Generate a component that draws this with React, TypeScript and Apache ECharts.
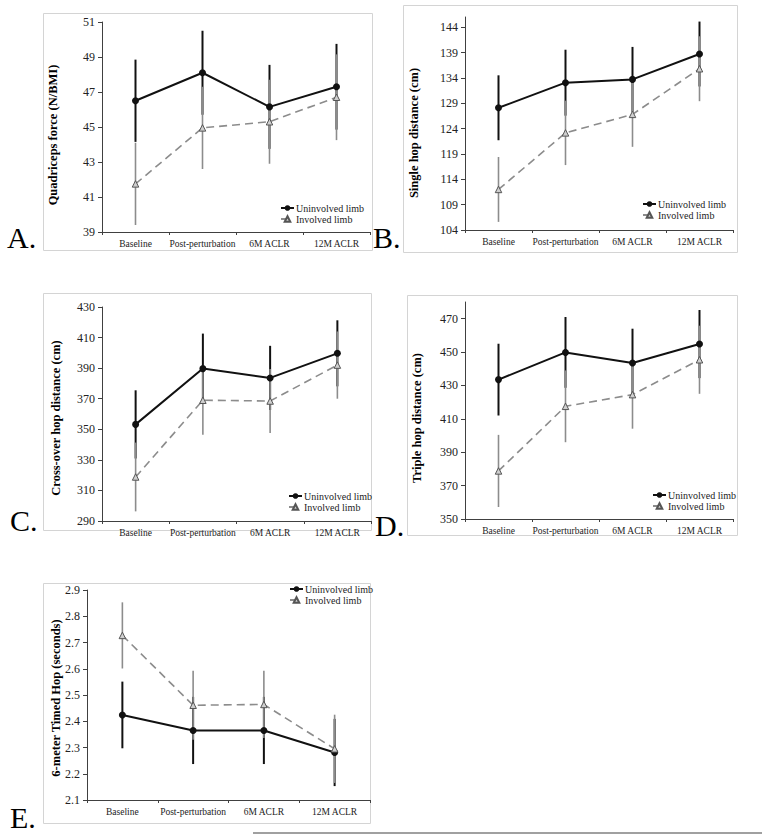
import React, { useEffect, useRef } from "react";
import * as echarts from "echarts";

const categories = ["Baseline", "Post-perturbation", "6M ACLR", "12M ACLR"];
const seriesNames = ["Uninvolved limb", "Involved limb"];

// Panel A – Quadriceps force
const uninvA = [46.5, 48.1, 46.15, 47.3];
const uninvAErr = [2.35, 2.4, 2.4, 2.45];
const invA = [41.75, 44.95, 45.3, 46.7];
const invAErr = [2.35, 2.35, 2.4, 2.45];
const ticksA = [39, 41, 43, 45, 47, 49, 51];

// Panel B – Single hop distance
const uninvB = [128.1, 133.05, 133.7, 138.7];
const uninvBErr = [6.4, 6.5, 6.4, 6.4];
const invB = [112.0, 123.15, 126.8, 135.8];
const invBErr = [6.4, 6.35, 6.4, 6.4];
const ticksB = [104, 109, 114, 119, 124, 129, 134, 139, 144];

// Panel C – Cross-over hop distance
const uninvC = [353.2, 389.7, 383.6, 399.7];
const uninvCErr = [22.3, 22.9, 21.0, 21.6];
const invC = [318.8, 369.0, 368.5, 392.0];
const invCErr = [22.5, 22.5, 21.0, 22.0];
const ticksC = [290, 310, 330, 350, 370, 390, 410, 430];

// Panel D – Triple hop distance
const uninvD = [433.5, 449.8, 443.5, 454.8];
const uninvDErr = [21.5, 21.2, 20.5, 20.4];
const invD = [378.8, 417.5, 424.5, 445.4];
const invDErr = [21.6, 21.5, 20.4, 20.4];
const ticksD = [350, 370, 390, 410, 430, 450, 470];

// Panel E – 6-meter timed hop
const uninvE = [2.424, 2.365, 2.365, 2.281];
const uninvEErr = [0.127, 0.128, 0.128, 0.128];
const invE = [2.727, 2.461, 2.464, 2.295];
const invEErr = [0.126, 0.131, 0.128, 0.13];
const ticksE = [2.1, 2.2, 2.3, 2.4, 2.5, 2.6, 2.7, 2.8, 2.9];

const SERIF = "Liberation Serif, serif";
const GREY = "#8c8c8c";

type Panel = {
  letter: string;
  title: string;
  uninv: number[];
  uninvErr: number[];
  inv: number[];
  invErr: number[];
  ticks: number[];
  min: number;
  max: number;
  decimals: number;
  grid: { left: number; top: number; width: number; height: number };
  frame: { x: number; y: number; w: number; h: number };
  letterPos: { x: number; y: number };
  titlePos: { x: number; y: number };
  legendPos: { left: number; top: number };
};

const panels: Panel[] = [
  {
    letter: "A.", title: "Quadriceps force (N/BMI)",
    uninv: uninvA, uninvErr: uninvAErr, inv: invA, invErr: invAErr,
    ticks: ticksA, min: 39, max: 51, decimals: 0,
    grid: { left: 102, top: 22, width: 268, height: 210 },
    frame: { x: 43, y: 13, w: 329, h: 237 },
    letterPos: { x: 7, y: 237 }, titlePos: { x: 53, y: 135 },
    legendPos: { left: 280, top: 203 },
  },
  {
    letter: "B.", title: "Single hop distance (cm)",
    uninv: uninvB, uninvErr: uninvBErr, inv: invB, invErr: invBErr,
    ticks: ticksB, min: 104, max: 146, decimals: 0,
    grid: { left: 465, top: 17, width: 268, height: 213 },
    frame: { x: 403, y: 5, w: 334, h: 247 },
    letterPos: { x: 373, y: 237 }, titlePos: { x: 414, y: 133 },
    legendPos: { left: 642, top: 199 },
  },
  {
    letter: "C.", title: "Cross-over hop distance (cm)",
    uninv: uninvC, uninvErr: uninvCErr, inv: invC, invErr: invCErr,
    ticks: ticksC, min: 290, max: 430, decimals: 0,
    grid: { left: 102, top: 307, width: 269, height: 214 },
    frame: { x: 43, y: 293, w: 328, h: 237 },
    letterPos: { x: 10, y: 520 }, titlePos: { x: 56, y: 418 },
    legendPos: { left: 288, top: 491 },
  },
  {
    letter: "D.", title: "Triple hop distance (cm)",
    uninv: uninvD, uninvErr: uninvDErr, inv: invD, invErr: invDErr,
    ticks: ticksD, min: 350, max: 480, decimals: 0,
    grid: { left: 465, top: 302, width: 268, height: 217 },
    frame: { x: 407, y: 295, w: 330, h: 240 },
    letterPos: { x: 375, y: 525 }, titlePos: { x: 417, y: 418 },
    legendPos: { left: 652, top: 490 },
  },
  {
    letter: "E.", title: "6-meter Timed Hop (seconds)",
    uninv: uninvE, uninvErr: uninvEErr, inv: invE, invErr: invEErr,
    ticks: ticksE, min: 2.1, max: 2.9, decimals: 1,
    grid: { left: 87, top: 590, width: 283, height: 210 },
    frame: { x: 43, y: 583, w: 327, h: 240 },
    letterPos: { x: 10, y: 817 }, titlePos: { x: 56, y: 698 },
    legendPos: { left: 289, top: 584 },
  },
];

function errRender(color: string, width: number) {
  return (params: any, api: any) => {
    const x = api.value(0);
    const lo = api.coord([x, api.value(1)]);
    const hi = api.coord([x, api.value(2)]);
    return {
      type: "line",
      shape: { x1: lo[0], y1: lo[1], x2: hi[0], y2: hi[1] },
      style: { stroke: color, lineWidth: width },
    };
  };
}

function buildOption() {
  const grid: any[] = [];
  const xAxis: any[] = [];
  const yAxis: any[] = [];
  const series: any[] = [];
  const legend: any[] = [];
  const graphic: any[] = [];

  panels.forEach((p, i) => {
    grid.push({ ...p.grid, containLabel: false });
    xAxis.push({
      type: "category",
      gridIndex: i,
      data: categories,
      boundaryGap: true,
      axisLine: { lineStyle: { color: "#404040", width: 1 } },
      axisTick: { show: true, length: 3, lineStyle: { color: "#404040" } },
      axisLabel: { fontFamily: SERIF, fontSize: 9.5, color: "#222", margin: 7, interval: 0 },
      splitLine: { show: false },
    });
    yAxis.push({
      type: "value",
      gridIndex: i,
      min: p.min,
      max: p.max,
      axisLine: { show: true, lineStyle: { color: "#404040", width: 1 } },
      axisTick: { show: true, length: 4, customValues: p.ticks, lineStyle: { color: "#404040" } },
      axisLabel: {
        fontFamily: SERIF,
        fontSize: 12,
        color: "#222",
        margin: 7,
        customValues: p.ticks,
        formatter: (v: number) => v.toFixed(p.decimals),
      },
      splitLine: { show: false },
    });

    series.push({
      type: "custom",
      name: seriesNames[0] + " SD",
      xAxisIndex: i,
      yAxisIndex: i,
      renderItem: errRender("#111", 2),
      encode: { x: 0, y: [1, 2] },
      data: p.uninv.map((v, k) => [k, v - p.uninvErr[k], v + p.uninvErr[k]]),
      silent: true,
    });
    series.push({
      type: "custom",
      name: seriesNames[1] + " SD",
      xAxisIndex: i,
      yAxisIndex: i,
      renderItem: errRender(GREY, 1.6),
      encode: { x: 0, y: [1, 2] },
      data: p.inv.map((v, k) => [k, v - p.invErr[k], v + p.invErr[k]]),
      silent: true,
    });
    series.push({
      type: "line",
      name: seriesNames[0],
      xAxisIndex: i,
      yAxisIndex: i,
      data: p.uninv,
      symbol: "circle",
      symbolSize: 7,
      itemStyle: { color: "#111" },
      lineStyle: { color: "#111", width: 2 },
    });
    series.push({
      type: "line",
      name: seriesNames[1],
      xAxisIndex: i,
      yAxisIndex: i,
      data: p.inv,
      symbol: "triangle",
      symbolSize: 6.5,
      itemStyle: { color: "#cfcfcf", borderColor: "#555", borderWidth: 1 },
      lineStyle: { color: GREY, width: 1.6, type: [8, 5] },
    });

    legend.push({
      data: seriesNames,
      orient: "vertical",
      left: p.legendPos.left,
      top: p.legendPos.top,
      padding: 0,
      itemGap: 1,
      itemWidth: 13,
      itemHeight: 7,
      textStyle: { fontFamily: SERIF, fontSize: 10, color: "#222", padding: [0, 0, 0, -3] },
      selectedMode: false,
    });

    graphic.push({
      type: "rect",
      shape: { x: p.frame.x + 0.5, y: p.frame.y + 0.5, width: p.frame.w, height: p.frame.h },
      style: { fill: "none", stroke: "#d4d4d4", lineWidth: 1 },
      silent: true,
      z: -1,
    });
    graphic.push({
      type: "text",
      x: p.letterPos.x,
      y: p.letterPos.y,
      style: {
        text: p.letter,
        font: `30px ${SERIF}`,
        fill: "#000",
        align: "left",
        verticalAlign: "middle",
      },
    });
    graphic.push({
      type: "text",
      x: p.titlePos.x,
      y: p.titlePos.y,
      rotation: Math.PI / 2,
      style: {
        text: p.title,
        font: `bold 12.5px ${SERIF}`,
        fill: "#000",
        align: "center",
        verticalAlign: "middle",
      },
    });
  });

  graphic.push({
    type: "line",
    shape: { x1: 253, y1: 833, x2: 762, y2: 833 },
    style: { stroke: "#808080", lineWidth: 1.5 },
  });

  return {
    animation: false,
    backgroundColor: "#fff",
    textStyle: { fontFamily: SERIF },
    grid,
    xAxis,
    yAxis,
    series,
    legend,
    graphic,
  };
}

export default function App() {
  const ref = useRef<HTMLDivElement>(null);
  useEffect(() => {
    if (!ref.current) return;
    const chart = echarts.init(ref.current, undefined, { renderer: "svg" });
    chart.setOption(buildOption() as any);
    return () => chart.dispose();
  }, []);
  return (
    <div
      ref={ref}
      style={{ position: "fixed", left: 0, top: 0, width: 762, height: 835, background: "#fff" }}
    />
  );
}
